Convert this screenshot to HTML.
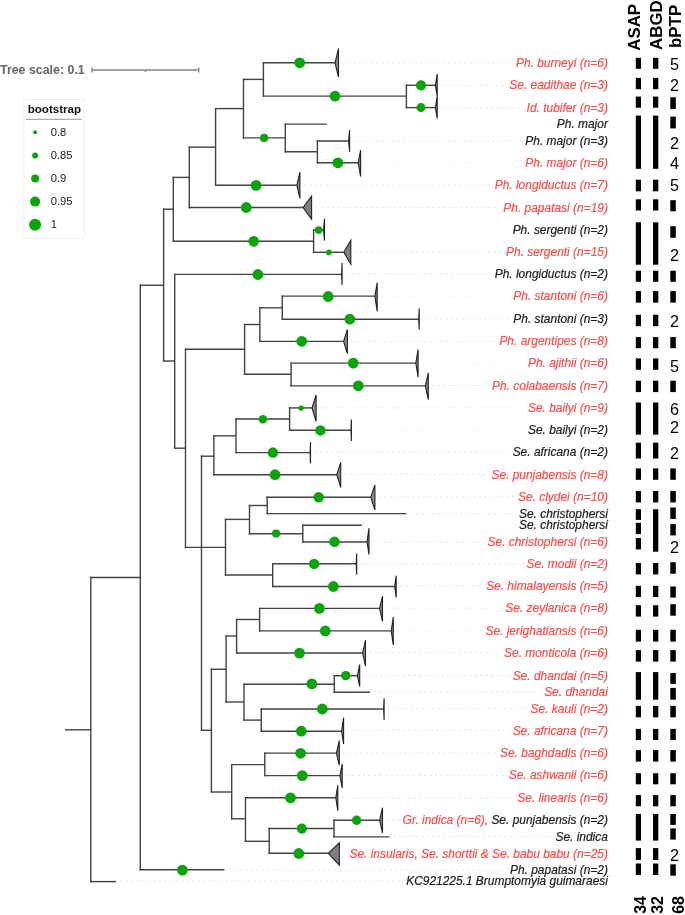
<!DOCTYPE html><html><head><meta charset="utf-8"><style>
html,body{margin:0;padding:0;background:#fff;}
body{width:685px;height:915px;overflow:hidden;position:relative;font-family:"Liberation Sans",sans-serif;}
svg{position:absolute;left:0;top:0;}
svg{will-change:transform}
</style></head><body>
<svg width="685" height="915" viewBox="0 0 685 915">
<g stroke="#e6e6e6" stroke-width="1" stroke-dasharray="2.2 3.35" fill="none">
<line x1="342.5" y1="62.8" x2="512.9" y2="62.8"/>
<line x1="441.2" y1="85.3" x2="506.2" y2="85.3"/>
<line x1="441.2" y1="107.6" x2="523.5" y2="107.6"/>
<line x1="353.6" y1="141.2" x2="522.2" y2="141.2"/>
<line stroke="#f1f1f1" x1="364.6" y1="162.8" x2="522.2" y2="162.8"/>
<line x1="303.9" y1="185.3" x2="491.6" y2="185.3"/>
<line x1="315.6" y1="207.5" x2="500.3" y2="207.5"/>
<line x1="354.8" y1="251.8" x2="502.9" y2="251.8"/>
<line x1="346.1" y1="274.2" x2="491.6" y2="274.2"/>
<line stroke="#f1f1f1" x1="381.2" y1="296.3" x2="510.2" y2="296.3"/>
<line x1="423.2" y1="318.8" x2="510.2" y2="318.8"/>
<line x1="351.4" y1="341.3" x2="496.3" y2="341.3"/>
<line stroke="#f1f1f1" x1="422.1" y1="363.3" x2="524.9" y2="363.3"/>
<line x1="432.3" y1="385.5" x2="489.0" y2="385.5"/>
<line x1="320.1" y1="407.9" x2="524.9" y2="407.9"/>
<line stroke="#f1f1f1" x1="355.4" y1="430.2" x2="524.9" y2="430.2"/>
<line x1="314.5" y1="452.2" x2="509.6" y2="452.2"/>
<line x1="344.7" y1="474.6" x2="488.3" y2="474.6"/>
<line x1="378.9" y1="497.0" x2="514.9" y2="497.0"/>
<line x1="410.4" y1="514.0" x2="515.9" y2="514.0"/>
<line x1="373.0" y1="541.7" x2="484.3" y2="541.7"/>
<line x1="360.7" y1="563.8" x2="523.5" y2="563.8"/>
<line x1="400.2" y1="586.0" x2="483.0" y2="586.0"/>
<line x1="386.5" y1="608.1" x2="502.3" y2="608.1"/>
<line stroke="#f1f1f1" x1="397.3" y1="630.8" x2="482.3" y2="630.8"/>
<line x1="369.5" y1="652.7" x2="500.9" y2="652.7"/>
<line x1="363.7" y1="675.5" x2="509.6" y2="675.5"/>
<line x1="373.9" y1="691.6" x2="541.1" y2="691.6"/>
<line x1="388.1" y1="708.8" x2="527.5" y2="708.8"/>
<line x1="347.6" y1="730.6" x2="509.6" y2="730.6"/>
<line x1="343.3" y1="753.2" x2="496.9" y2="753.2"/>
<line x1="346.2" y1="775.4" x2="505.6" y2="775.4"/>
<line x1="341.8" y1="797.7" x2="514.2" y2="797.7"/>
<line x1="386.5" y1="819.9" x2="399.4" y2="819.9"/>
<line x1="393.5" y1="836.7" x2="552.4" y2="836.7"/>
<line x1="343.3" y1="854.0" x2="346.2" y2="854.0"/>
<line x1="228.5" y1="870.3" x2="506.9" y2="870.3"/>
<line x1="120.1" y1="881.1" x2="403.0" y2="881.1"/>
</g>
<g stroke="#424242" stroke-width="1.4" fill="none">
<line x1="65.00" y1="729.8" x2="90.8" y2="729.8"/>
<line x1="90.10" y1="881.6" x2="116.1" y2="881.6"/>
<line x1="90.10" y1="577.5" x2="140.3" y2="577.5"/>
<line x1="139.60" y1="869.8" x2="224.5" y2="869.8"/>
<line x1="139.60" y1="285.3" x2="163.6" y2="285.3"/>
<line x1="162.90" y1="209.2" x2="173.3" y2="209.2"/>
<line x1="172.60" y1="241.3" x2="313.6" y2="241.3"/>
<line x1="312.90" y1="230.1" x2="323.6" y2="230.1"/>
<line x1="312.90" y1="252.3" x2="343.8" y2="252.3"/>
<line x1="172.60" y1="177.4" x2="189.3" y2="177.4"/>
<line x1="188.60" y1="207.5" x2="303.1" y2="207.5"/>
<line x1="188.60" y1="147.2" x2="215.6" y2="147.2"/>
<line x1="214.90" y1="185.3" x2="296.9" y2="185.3"/>
<line x1="214.90" y1="108.6" x2="243.5" y2="108.6"/>
<line x1="242.80" y1="79.4" x2="263.4" y2="79.4"/>
<line x1="262.70" y1="62.8" x2="335.0" y2="62.8"/>
<line x1="262.70" y1="96.1" x2="406.4" y2="96.1"/>
<line x1="405.70" y1="85.3" x2="435.4" y2="85.3"/>
<line x1="405.70" y1="107.6" x2="435.4" y2="107.6"/>
<line x1="242.80" y1="137.9" x2="285.3" y2="137.9"/>
<line x1="284.60" y1="124.1" x2="326.7" y2="124.1"/>
<line x1="284.60" y1="151.8" x2="317.4" y2="151.8"/>
<line x1="316.70" y1="141" x2="348.6" y2="141"/>
<line x1="316.70" y1="162.8" x2="358.2" y2="162.8"/>
<line x1="162.90" y1="361" x2="174.7" y2="361"/>
<line x1="174.00" y1="274.4" x2="341.6" y2="274.4"/>
<line x1="174.00" y1="448.2" x2="185.5" y2="448.2"/>
<line x1="184.80" y1="349.3" x2="244.6" y2="349.3"/>
<line x1="243.90" y1="324.5" x2="259.9" y2="324.5"/>
<line x1="259.20" y1="307.8" x2="282.3" y2="307.8"/>
<line x1="281.60" y1="296.1" x2="374.9" y2="296.1"/>
<line x1="281.60" y1="319.2" x2="418.7" y2="319.2"/>
<line x1="259.20" y1="341.4" x2="343.6" y2="341.4"/>
<line x1="243.90" y1="374.3" x2="291.1" y2="374.3"/>
<line x1="290.40" y1="363.1" x2="415.8" y2="363.1"/>
<line x1="290.40" y1="385.9" x2="425.4" y2="385.9"/>
<line x1="184.80" y1="547.4" x2="225.5" y2="547.4"/>
<line x1="224.80" y1="519.4" x2="249.5" y2="519.4"/>
<line x1="248.80" y1="505.5" x2="267.2" y2="505.5"/>
<line x1="266.50" y1="497.3" x2="370.8" y2="497.3"/>
<line x1="266.50" y1="513.6" x2="406.4" y2="513.6"/>
<line x1="248.80" y1="533.8" x2="302.8" y2="533.8"/>
<line x1="302.10" y1="525.3" x2="361.8" y2="525.3"/>
<line x1="302.10" y1="542" x2="367" y2="542"/>
<line x1="224.80" y1="575" x2="272.7" y2="575"/>
<line x1="272.00" y1="563.8" x2="356.2" y2="563.8"/>
<line x1="272.00" y1="586.5" x2="394.7" y2="586.5"/>
<line x1="200.80" y1="456.2" x2="213.9" y2="456.2"/>
<line x1="213.20" y1="435.8" x2="236" y2="435.8"/>
<line x1="235.30" y1="419" x2="289.6" y2="419"/>
<line x1="288.90" y1="407.9" x2="312.0" y2="407.9"/>
<line x1="288.90" y1="430.3" x2="351" y2="430.3"/>
<line x1="235.30" y1="452.6" x2="310.1" y2="452.6"/>
<line x1="213.20" y1="474.7" x2="336.9" y2="474.7"/>
<line x1="200.80" y1="730.3" x2="211.4" y2="730.3"/>
<line x1="210.70" y1="669.3" x2="226.1" y2="669.3"/>
<line x1="225.40" y1="636" x2="236.6" y2="636"/>
<line x1="235.90" y1="619.5" x2="259.6" y2="619.5"/>
<line x1="258.90" y1="608.4" x2="379.6" y2="608.4"/>
<line x1="258.90" y1="630.9" x2="391.2" y2="630.9"/>
<line x1="235.90" y1="653" x2="362.6" y2="653"/>
<line x1="225.40" y1="702" x2="244" y2="702"/>
<line x1="243.30" y1="684.2" x2="334.3" y2="684.2"/>
<line x1="333.60" y1="675.7" x2="357.4" y2="675.7"/>
<line x1="333.60" y1="692.3" x2="369.9" y2="692.3"/>
<line x1="243.30" y1="720.1" x2="261.3" y2="720.1"/>
<line x1="260.60" y1="709" x2="383.6" y2="709"/>
<line x1="260.60" y1="731.2" x2="341.6" y2="731.2"/>
<line x1="210.70" y1="792" x2="231.7" y2="792"/>
<line x1="231.00" y1="764.6" x2="264.8" y2="764.6"/>
<line x1="264.10" y1="753.1" x2="336.4" y2="753.1"/>
<line x1="264.10" y1="775.6" x2="339.9" y2="775.6"/>
<line x1="231.00" y1="818.8" x2="245.5" y2="818.8"/>
<line x1="244.80" y1="797.8" x2="335.8" y2="797.8"/>
<line x1="244.80" y1="841.3" x2="269.2" y2="841.3"/>
<line x1="268.50" y1="828.5" x2="334" y2="828.5"/>
<line x1="333.30" y1="820.3" x2="379.6" y2="820.3"/>
<line x1="333.30" y1="836.9" x2="389.5" y2="836.9"/>
<line x1="268.50" y1="853.3" x2="328.2" y2="853.3"/>
</g>
<g stroke="#424242" stroke-width="1.4" fill="none" stroke-linecap="square">
<line x1="90.8" y1="577.5" x2="90.8" y2="881.6"/>
<line x1="140.3" y1="285.3" x2="140.3" y2="869.8"/>
<line x1="163.6" y1="209.2" x2="163.6" y2="361"/>
<line x1="173.3" y1="177.4" x2="173.3" y2="241.3"/>
<line x1="313.6" y1="230.1" x2="313.6" y2="252.3"/>
<line x1="189.3" y1="147.2" x2="189.3" y2="207.7"/>
<line x1="215.6" y1="108.6" x2="215.6" y2="185.3"/>
<line x1="243.5" y1="79.4" x2="243.5" y2="137.8"/>
<line x1="263.4" y1="62.8" x2="263.4" y2="96.1"/>
<line x1="406.4" y1="85.3" x2="406.4" y2="107.6"/>
<line x1="285.3" y1="124.1" x2="285.3" y2="151.8"/>
<line x1="317.4" y1="141" x2="317.4" y2="162.8"/>
<line x1="174.7" y1="274.4" x2="174.7" y2="448.2"/>
<line x1="185.5" y1="349.3" x2="185.5" y2="547.4"/>
<line x1="244.6" y1="324.5" x2="244.6" y2="374.3"/>
<line x1="259.9" y1="307.8" x2="259.9" y2="341.4"/>
<line x1="282.3" y1="296.1" x2="282.3" y2="319.2"/>
<line x1="291.1" y1="363.1" x2="291.1" y2="385.9"/>
<line x1="225.5" y1="519.4" x2="225.5" y2="575"/>
<line x1="249.5" y1="505.5" x2="249.5" y2="533.8"/>
<line x1="267.2" y1="497.3" x2="267.2" y2="513.6"/>
<line x1="302.8" y1="525.3" x2="302.8" y2="542"/>
<line x1="272.7" y1="563.8" x2="272.7" y2="586.5"/>
<line x1="201.5" y1="456.2" x2="201.5" y2="730.3"/>
<line x1="213.9" y1="435.8" x2="213.9" y2="474.7"/>
<line x1="236" y1="419" x2="236" y2="452.6"/>
<line x1="289.6" y1="407.9" x2="289.6" y2="430.3"/>
<line x1="211.4" y1="669.3" x2="211.4" y2="792"/>
<line x1="226.1" y1="636" x2="226.1" y2="702"/>
<line x1="236.6" y1="619.5" x2="236.6" y2="653"/>
<line x1="259.6" y1="608.4" x2="259.6" y2="630.9"/>
<line x1="244" y1="684.2" x2="244" y2="720.1"/>
<line x1="334.3" y1="675.7" x2="334.3" y2="692.3"/>
<line x1="261.3" y1="709" x2="261.3" y2="731.2"/>
<line x1="231.7" y1="764.6" x2="231.7" y2="818.8"/>
<line x1="264.8" y1="753.1" x2="264.8" y2="775.6"/>
<line x1="245.5" y1="797.8" x2="245.5" y2="841.3"/>
<line x1="269.2" y1="828.5" x2="269.2" y2="853.3"/>
<line x1="334" y1="820.3" x2="334" y2="836.9"/>
</g>
<g stroke="#222" stroke-width="1.1" stroke-linejoin="miter">
<polygon points="323.6,230.1 324.5,218.8 324.5,240.6" fill="#8a8a8a"/>
<polygon points="343.8,252.3 350.8,240.2 350.8,264.3" fill="#7f7f7f"/>
<polygon points="303.1,207.5 311.6,196.1 311.6,219.2" fill="#7f7f7f"/>
<polygon points="296.9,185.3 299.9,172.1 299.9,198.4" fill="#8a8a8a"/>
<polygon points="335.0,62.8 338.5,48.6 338.5,77.0" fill="#8a8a8a"/>
<polygon points="435.4,85.3 437.2,74 437.2,96.3" fill="#8a8a8a"/>
<polygon points="435.4,107.6 437.2,96.3 437.2,118.5" fill="#8a8a8a"/>
<polygon points="348.6,141 349.6,130 349.6,151.7" fill="#8a8a8a"/>
<polygon points="358.2,162.8 360.6,150.2 360.6,176.5" fill="#8a8a8a"/>
<polygon points="341.6,274.4 342.1,263.1 342.1,285" fill="#8a8a8a"/>
<polygon points="374.9,296.1 377.2,282.7 377.2,311.3" fill="#8a8a8a"/>
<polygon points="418.7,319.2 419.2,308.4 419.2,329.4" fill="#8a8a8a"/>
<polygon points="343.6,341.4 347.4,329.4 347.4,353.6" fill="#8a8a8a"/>
<polygon points="415.8,363.1 418.1,349.5 418.1,377.2" fill="#8a8a8a"/>
<polygon points="425.4,385.9 428.3,372.8 428.3,399.6" fill="#8a8a8a"/>
<polygon points="370.8,497.3 374.9,485 374.9,509.9" fill="#8a8a8a"/>
<polygon points="367,542 369,528.2 369,554.5" fill="#8a8a8a"/>
<polygon points="356.2,563.8 356.7,553.5 356.7,574.8" fill="#8a8a8a"/>
<polygon points="394.7,586.5 396.2,575.7 396.2,597.3" fill="#8a8a8a"/>
<polygon points="312.0,407.9 316.1,395.0 316.1,421.3" fill="#8a8a8a"/>
<polygon points="351,430.3 351.4,419.5 351.4,441.1" fill="#8a8a8a"/>
<polygon points="310.1,452.6 310.5,442 310.5,463.3" fill="#8a8a8a"/>
<polygon points="336.9,474.7 340.7,462.3 340.7,487.4" fill="#8a8a8a"/>
<polygon points="379.6,608.4 382.5,596.1 382.5,621.5" fill="#8a8a8a"/>
<polygon points="391.2,630.9 393.3,617.2 393.3,644.9" fill="#8a8a8a"/>
<polygon points="362.6,653 365.5,640 365.5,666.2" fill="#8a8a8a"/>
<polygon points="357.4,675.7 359.7,664.6 359.7,686.5" fill="#8a8a8a"/>
<polygon points="383.6,709 384.1,698.2 384.1,720.1" fill="#8a8a8a"/>
<polygon points="341.6,731.2 343.6,717.7 343.6,744" fill="#8a8a8a"/>
<polygon points="336.4,753.1 339.3,740.5 339.3,765.3" fill="#8a8a8a"/>
<polygon points="339.9,775.6 342.2,764 342.2,788.2" fill="#8a8a8a"/>
<polygon points="335.8,797.8 337.8,785.3 337.8,810.7" fill="#8a8a8a"/>
<polygon points="379.6,820.3 382.5,807.7 382.5,832.8" fill="#8a8a8a"/>
<polygon points="328.2,853.3 339.3,842.8 339.3,865" fill="#7f7f7f"/>
</g>
<g fill="#0ca30c">
<circle cx="182.4" cy="870.1" r="5.4"/>
<circle cx="253.7" cy="241.3" r="5.4"/>
<circle cx="318.7" cy="230.1" r="3.85"/>
<circle cx="328.9" cy="252.3" r="2.9"/>
<circle cx="246.3" cy="207.5" r="5.4"/>
<circle cx="256.1" cy="185.4" r="5.4"/>
<circle cx="299.7" cy="62.8" r="5.4"/>
<circle cx="335" cy="96.1" r="5.4"/>
<circle cx="421" cy="85.3" r="5.1"/>
<circle cx="421" cy="107.6" r="4.5"/>
<circle cx="264.1" cy="137.9" r="4.1"/>
<circle cx="337.8" cy="162.8" r="5.4"/>
<circle cx="257.9" cy="274.5" r="5.4"/>
<circle cx="328.2" cy="296.5" r="5.4"/>
<circle cx="349.8" cy="319.2" r="5.4"/>
<circle cx="301.7" cy="341.3" r="5.4"/>
<circle cx="353.3" cy="363.1" r="5.4"/>
<circle cx="358.3" cy="385.8" r="5.4"/>
<circle cx="318.7" cy="497.2" r="5.25"/>
<circle cx="276.1" cy="533.6" r="4.1"/>
<circle cx="334.5" cy="541.8" r="5.25"/>
<circle cx="314.1" cy="563.9" r="5.25"/>
<circle cx="333.4" cy="586.5" r="5.4"/>
<circle cx="262.9" cy="419.2" r="4.25"/>
<circle cx="301.1" cy="408.1" r="2.7"/>
<circle cx="320.4" cy="430.4" r="5.25"/>
<circle cx="272.9" cy="452.6" r="5.25"/>
<circle cx="275" cy="474.7" r="5.4"/>
<circle cx="319.4" cy="608.4" r="5.4"/>
<circle cx="325.3" cy="630.9" r="5.4"/>
<circle cx="299.5" cy="653.1" r="5.4"/>
<circle cx="311.8" cy="683.9" r="5.4"/>
<circle cx="345.8" cy="675.6" r="4.7"/>
<circle cx="322.3" cy="709" r="5.4"/>
<circle cx="301.3" cy="731.2" r="5.4"/>
<circle cx="300.6" cy="753.3" r="5.4"/>
<circle cx="302.3" cy="775.6" r="5.4"/>
<circle cx="290.5" cy="797.9" r="5.4"/>
<circle cx="301.8" cy="828.6" r="5.05"/>
<circle cx="356.6" cy="820.2" r="4.7"/>
<circle cx="298.8" cy="853.5" r="5.4"/>
</g>
<g font-family="Liberation Sans" font-style="italic" font-size="11.95" text-anchor="end" dominant-baseline="central">
<text x="607.9" y="62.8"><tspan fill="#f44e4e" stroke="#f44e4e" stroke-width="0.2">Ph. burneyi (n=6)</tspan></text>
<text x="607.9" y="85.3"><tspan fill="#f44e4e" stroke="#f44e4e" stroke-width="0.2">Se. eadithae (n=3)</tspan></text>
<text x="607.9" y="107.6"><tspan fill="#f44e4e" stroke="#f44e4e" stroke-width="0.2">Id. tubifer (n=3)</tspan></text>
<text x="607.9" y="124.1"><tspan fill="#1a1a1a" stroke="#1a1a1a" stroke-width="0.2">Ph. major</tspan></text>
<text x="607.9" y="141.2"><tspan fill="#1a1a1a" stroke="#1a1a1a" stroke-width="0.2">Ph. major (n=3)</tspan></text>
<text x="607.9" y="162.8"><tspan fill="#f44e4e" stroke="#f44e4e" stroke-width="0.2">Ph. major (n=6)</tspan></text>
<text x="607.9" y="185.3"><tspan fill="#f44e4e" stroke="#f44e4e" stroke-width="0.2">Ph. longiductus (n=7)</tspan></text>
<text x="607.9" y="207.5"><tspan fill="#f44e4e" stroke="#f44e4e" stroke-width="0.2">Ph. papatasi (n=19)</tspan></text>
<text x="607.9" y="229.6"><tspan fill="#1a1a1a" stroke="#1a1a1a" stroke-width="0.2">Ph. sergenti (n=2)</tspan></text>
<text x="607.9" y="251.8"><tspan fill="#f44e4e" stroke="#f44e4e" stroke-width="0.2">Ph. sergenti (n=15)</tspan></text>
<text x="607.9" y="274.2"><tspan fill="#1a1a1a" stroke="#1a1a1a" stroke-width="0.2">Ph. longiductus (n=2)</tspan></text>
<text x="607.9" y="296.3"><tspan fill="#f44e4e" stroke="#f44e4e" stroke-width="0.2">Ph. stantoni (n=6)</tspan></text>
<text x="607.9" y="318.8"><tspan fill="#1a1a1a" stroke="#1a1a1a" stroke-width="0.2">Ph. stantoni (n=3)</tspan></text>
<text x="607.9" y="341.3"><tspan fill="#f44e4e" stroke="#f44e4e" stroke-width="0.2">Ph. argentipes (n=8)</tspan></text>
<text x="607.9" y="363.3"><tspan fill="#f44e4e" stroke="#f44e4e" stroke-width="0.2">Ph. ajithii (n=6)</tspan></text>
<text x="607.9" y="385.5"><tspan fill="#f44e4e" stroke="#f44e4e" stroke-width="0.2">Ph. colabaensis (n=7)</tspan></text>
<text x="607.9" y="407.9"><tspan fill="#f44e4e" stroke="#f44e4e" stroke-width="0.2">Se. bailyi (n=9)</tspan></text>
<text x="607.9" y="430.2"><tspan fill="#1a1a1a" stroke="#1a1a1a" stroke-width="0.2">Se. bailyi (n=2)</tspan></text>
<text x="607.9" y="452.2"><tspan fill="#1a1a1a" stroke="#1a1a1a" stroke-width="0.2">Se. africana (n=2)</tspan></text>
<text x="607.9" y="474.6"><tspan fill="#f44e4e" stroke="#f44e4e" stroke-width="0.2">Se. punjabensis (n=8)</tspan></text>
<text x="607.9" y="497.0"><tspan fill="#f44e4e" stroke="#f44e4e" stroke-width="0.2">Se. clydei (n=10)</tspan></text>
<text x="607.9" y="514.0"><tspan fill="#1a1a1a" stroke="#1a1a1a" stroke-width="0.2">Se. christophersi</tspan></text>
<text x="607.9" y="524.7"><tspan fill="#1a1a1a" stroke="#1a1a1a" stroke-width="0.2">Se. christophersi</tspan></text>
<text x="607.9" y="541.7"><tspan fill="#f44e4e" stroke="#f44e4e" stroke-width="0.2">Se. christophersi (n=6)</tspan></text>
<text x="607.9" y="563.8"><tspan fill="#f44e4e" stroke="#f44e4e" stroke-width="0.2">Se. modii (n=2)</tspan></text>
<text x="607.9" y="586.0"><tspan fill="#f44e4e" stroke="#f44e4e" stroke-width="0.2">Se. himalayensis (n=5)</tspan></text>
<text x="607.9" y="608.1"><tspan fill="#f44e4e" stroke="#f44e4e" stroke-width="0.2">Se. zeylanica (n=8)</tspan></text>
<text x="607.9" y="630.8"><tspan fill="#f44e4e" stroke="#f44e4e" stroke-width="0.2">Se. jerighatiansis (n=6)</tspan></text>
<text x="607.9" y="652.7"><tspan fill="#f44e4e" stroke="#f44e4e" stroke-width="0.2">Se. monticola (n=6)</tspan></text>
<text x="607.9" y="675.5"><tspan fill="#f44e4e" stroke="#f44e4e" stroke-width="0.2">Se. dhandai (n=5)</tspan></text>
<text x="607.9" y="691.6"><tspan fill="#f44e4e" stroke="#f44e4e" stroke-width="0.2">Se. dhandai</tspan></text>
<text x="607.9" y="708.8"><tspan fill="#f44e4e" stroke="#f44e4e" stroke-width="0.2">Se. kauli (n=2)</tspan></text>
<text x="607.9" y="730.6"><tspan fill="#f44e4e" stroke="#f44e4e" stroke-width="0.2">Se. africana (n=7)</tspan></text>
<text x="607.9" y="753.2"><tspan fill="#f44e4e" stroke="#f44e4e" stroke-width="0.2">Se. baghdadis (n=6)</tspan></text>
<text x="607.9" y="775.4"><tspan fill="#f44e4e" stroke="#f44e4e" stroke-width="0.2">Se. ashwanii (n=6)</tspan></text>
<text x="607.9" y="797.7"><tspan fill="#f44e4e" stroke="#f44e4e" stroke-width="0.2">Se. linearis (n=6)</tspan></text>
<text x="607.9" y="819.9"><tspan fill="#f44e4e" stroke="#f44e4e" stroke-width="0.2">Gr. indica (n=6),</tspan><tspan fill="#1a1a1a" stroke="#1a1a1a" stroke-width="0.2"> Se. punjabensis (n=2)</tspan></text>
<text x="607.9" y="836.7"><tspan fill="#1a1a1a" stroke="#1a1a1a" stroke-width="0.2">Se. indica</tspan></text>
<text x="607.9" y="854.0"><tspan fill="#f44e4e" stroke="#f44e4e" stroke-width="0.2">Se. insularis, Se. shorttii &amp; Se. babu babu (n=25)</tspan></text>
<text x="607.9" y="870.3"><tspan fill="#1a1a1a" stroke="#1a1a1a" stroke-width="0.2">Ph. papatasi (n=2)</tspan></text>
<text x="607.9" y="881.1"><tspan fill="#1a1a1a" stroke="#1a1a1a" stroke-width="0.2">KC921225.1 Brumptomyia guimaraesi</tspan></text>
</g>
<g fill="#000">
<rect x="635.8" y="57.8" width="5.2" height="11.0"/>
<rect x="653.0" y="57.8" width="5.3" height="11.0"/>
<rect x="635.8" y="77.9" width="5.2" height="11.3"/>
<rect x="653.0" y="77.9" width="5.3" height="11.3"/>
<rect x="635.8" y="96.6" width="5.2" height="11.1"/>
<rect x="653.0" y="96.6" width="5.3" height="11.1"/>
<rect x="670.3" y="97.3" width="5.5" height="11.7"/>
<rect x="635.8" y="115.6" width="5.2" height="53.2"/>
<rect x="653.0" y="115.6" width="5.3" height="53.2"/>
<rect x="670.3" y="116.6" width="5.5" height="11.8"/>
<rect x="635.8" y="179.7" width="5.2" height="11.6"/>
<rect x="653.0" y="179.7" width="5.3" height="11.6"/>
<rect x="635.8" y="199.3" width="5.2" height="11.2"/>
<rect x="653.0" y="199.3" width="5.3" height="11.2"/>
<rect x="670.3" y="200.2" width="5.5" height="11.1"/>
<rect x="635.8" y="222.3" width="5.2" height="42.4"/>
<rect x="653.0" y="222.3" width="5.3" height="42.4"/>
<rect x="670.3" y="226.2" width="5.5" height="11.6"/>
<rect x="635.8" y="270.7" width="5.2" height="11.1"/>
<rect x="653.0" y="270.7" width="5.3" height="11.1"/>
<rect x="670.3" y="270.7" width="5.5" height="11.1"/>
<rect x="635.8" y="291.1" width="5.2" height="11.5"/>
<rect x="653.0" y="291.1" width="5.3" height="11.5"/>
<rect x="670.3" y="291.1" width="5.5" height="11.5"/>
<rect x="635.8" y="314.8" width="5.2" height="11.4"/>
<rect x="653.0" y="314.8" width="5.3" height="11.4"/>
<rect x="635.8" y="337.1" width="5.2" height="11.1"/>
<rect x="653.0" y="337.1" width="5.3" height="11.1"/>
<rect x="670.3" y="337.1" width="5.5" height="11.1"/>
<rect x="635.8" y="358.4" width="5.2" height="11.4"/>
<rect x="653.0" y="358.4" width="5.3" height="11.4"/>
<rect x="635.8" y="380.7" width="5.2" height="11.4"/>
<rect x="653.0" y="380.7" width="5.3" height="11.4"/>
<rect x="670.3" y="380.7" width="5.5" height="11.4"/>
<rect x="635.8" y="402.5" width="5.2" height="32.1"/>
<rect x="653.0" y="402.5" width="5.3" height="32.1"/>
<rect x="635.8" y="442.7" width="5.2" height="15.8"/>
<rect x="653.0" y="442.7" width="5.3" height="15.8"/>
<rect x="635.8" y="468.4" width="5.2" height="11.4"/>
<rect x="653.0" y="468.4" width="5.3" height="11.4"/>
<rect x="670.3" y="468.4" width="5.5" height="11.4"/>
<rect x="635.8" y="491.0" width="5.2" height="11.4"/>
<rect x="653.0" y="491.0" width="5.3" height="11.4"/>
<rect x="670.3" y="491.0" width="5.5" height="11.4"/>
<rect x="635.8" y="509.2" width="5.2" height="10.7"/>
<rect x="635.8" y="522.8" width="5.2" height="11.3"/>
<rect x="635.8" y="538.0" width="5.2" height="11.4"/>
<rect x="653.0" y="509.2" width="5.3" height="42.5"/>
<rect x="670.3" y="507.5" width="5.5" height="11.4"/>
<rect x="670.3" y="524.1" width="5.5" height="11.3"/>
<rect x="635.8" y="563.0" width="5.2" height="11.4"/>
<rect x="653.0" y="563.0" width="5.3" height="11.4"/>
<rect x="670.3" y="562.2" width="5.5" height="11.5"/>
<rect x="635.8" y="585.8" width="5.2" height="11.2"/>
<rect x="653.0" y="585.8" width="5.3" height="11.2"/>
<rect x="670.3" y="586.5" width="5.5" height="11.1"/>
<rect x="635.8" y="605.2" width="5.2" height="11.4"/>
<rect x="653.0" y="605.2" width="5.3" height="11.4"/>
<rect x="670.3" y="604.2" width="5.5" height="11.5"/>
<rect x="635.8" y="629.8" width="5.2" height="11.8"/>
<rect x="653.0" y="629.8" width="5.3" height="11.8"/>
<rect x="670.3" y="629.8" width="5.5" height="11.8"/>
<rect x="635.8" y="650.1" width="5.2" height="11.5"/>
<rect x="653.0" y="650.1" width="5.3" height="11.5"/>
<rect x="670.3" y="650.1" width="5.5" height="11.5"/>
<rect x="635.8" y="672.1" width="5.2" height="27.6"/>
<rect x="653.0" y="672.1" width="5.3" height="27.6"/>
<rect x="670.3" y="673.0" width="5.5" height="10.9"/>
<rect x="670.3" y="687.9" width="5.5" height="11.8"/>
<rect x="635.8" y="705.9" width="5.2" height="11.4"/>
<rect x="653.0" y="705.9" width="5.3" height="11.4"/>
<rect x="670.3" y="705.9" width="5.5" height="11.4"/>
<rect x="635.8" y="728.9" width="5.2" height="11.1"/>
<rect x="653.0" y="728.9" width="5.3" height="11.1"/>
<rect x="670.3" y="728.9" width="5.5" height="11.1"/>
<rect x="635.8" y="750.1" width="5.2" height="11.5"/>
<rect x="653.0" y="750.1" width="5.3" height="11.5"/>
<rect x="670.3" y="750.1" width="5.5" height="11.5"/>
<rect x="635.8" y="773.2" width="5.2" height="11.1"/>
<rect x="653.0" y="773.2" width="5.3" height="11.1"/>
<rect x="670.3" y="773.2" width="5.5" height="11.1"/>
<rect x="635.8" y="795.1" width="5.2" height="11.2"/>
<rect x="653.0" y="795.1" width="5.3" height="11.2"/>
<rect x="670.3" y="795.1" width="5.5" height="11.2"/>
<rect x="635.8" y="814.0" width="5.2" height="26.6"/>
<rect x="653.0" y="814.0" width="5.3" height="26.6"/>
<rect x="670.3" y="814.0" width="5.5" height="10.9"/>
<rect x="670.3" y="828.4" width="5.5" height="11.2"/>
<rect x="635.8" y="848.1" width="5.2" height="11.8"/>
<rect x="653.0" y="848.1" width="5.3" height="11.8"/>
<rect x="635.8" y="863.5" width="5.2" height="11.5"/>
<rect x="653.0" y="863.5" width="5.3" height="11.5"/>
<rect x="670.3" y="864.3" width="5.5" height="11.4"/>
</g>
<g font-family="Liberation Sans" font-size="16.2" fill="#000" text-anchor="middle" dominant-baseline="central">
<text x="674.6" y="63.8">5</text>
<text x="674.6" y="84.5">2</text>
<text x="674.6" y="143.0">2</text>
<text x="674.6" y="162.9">4</text>
<text x="674.6" y="185.2">5</text>
<text x="674.6" y="255.0">2</text>
<text x="674.6" y="321.2">2</text>
<text x="674.6" y="366.2">5</text>
<text x="674.6" y="408.5">6</text>
<text x="674.6" y="427.0">2</text>
<text x="674.6" y="452.8">2</text>
<text x="674.6" y="547.1">2</text>
<text x="674.6" y="855.0">2</text>
</g>
<g font-family="Liberation Sans" font-size="16.9" font-weight="bold" fill="#000">
<text transform="translate(640.0,50.8) rotate(-90)">ASAP</text>
<text transform="translate(661.5,50.0) rotate(-90)">ABGD</text>
<text transform="translate(681.2,48.0) rotate(-90)">bPTP</text>
</g>
<g font-family="Liberation Sans" font-size="16" font-weight="bold" fill="#000">
<text transform="translate(645.6,913.8) rotate(-90)">34</text>
<text transform="translate(662.6,913.8) rotate(-90)">32</text>
<text transform="translate(683.6,913.8) rotate(-90)">68</text>
</g>
<g stroke="#858585" stroke-width="1.4" fill="none">
<line x1="92.1" y1="70" x2="198.7" y2="70"/>
<line x1="92.1" y1="67.6" x2="92.1" y2="72.6"/><line x1="198.7" y1="67.6" x2="198.7" y2="72.6"/>
<line x1="145.4" y1="70" x2="145.4" y2="72"/>
</g>
<text x="0" y="74.2" font-family="Liberation Sans" font-weight="bold" font-size="12.4" fill="#666">Tree scale: 0.1</text>
<rect x="23.9" y="99.6" width="60.3" height="138.8" fill="#fff" stroke="#f0f0f0" stroke-width="1"/>
<text x="27.7" y="113.1" font-family="Liberation Sans" font-weight="bold" font-size="11.6" fill="#111">bootstrap</text>
<line x1="25.9" y1="119.3" x2="81.8" y2="119.3" stroke="#999" stroke-width="1"/>
<circle cx="35.1" cy="132.3" r="2" fill="#0ca30c"/>
<text x="50.7" y="136.0" font-family="Liberation Sans" font-size="11.2" fill="#222">0.8</text>
<circle cx="35.1" cy="155.4" r="3" fill="#0ca30c"/>
<text x="50.7" y="159.1" font-family="Liberation Sans" font-size="11.2" fill="#222">0.85</text>
<circle cx="35.1" cy="178.5" r="4" fill="#0ca30c"/>
<text x="50.7" y="182.2" font-family="Liberation Sans" font-size="11.2" fill="#222">0.9</text>
<circle cx="35.1" cy="201.6" r="5" fill="#0ca30c"/>
<text x="50.7" y="205.3" font-family="Liberation Sans" font-size="11.2" fill="#222">0.95</text>
<circle cx="35.1" cy="224.7" r="6" fill="#0ca30c"/>
<text x="50.7" y="228.4" font-family="Liberation Sans" font-size="11.2" fill="#222">1</text>
</svg></body></html>
